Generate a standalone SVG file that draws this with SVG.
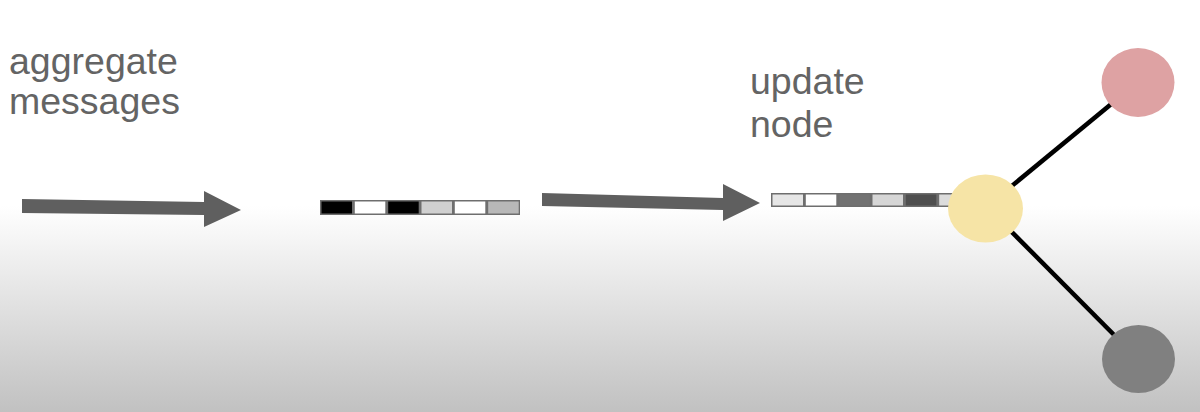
<svg xmlns="http://www.w3.org/2000/svg" width="1200" height="412" viewBox="0 0 1200 412">
  <defs>
    <linearGradient id="bg" x1="0" y1="0" x2="0" y2="412" gradientUnits="userSpaceOnUse">
      <stop offset="0" stop-color="#ffffff"/>
      <stop offset="0.5" stop-color="#ffffff"/>
      <stop offset="1" stop-color="#c1c1c1"/>
    </linearGradient>
  </defs>
  <style>
    .lbl { font-family: "Liberation Sans", Arial, sans-serif; font-size: 37.5px; fill: #646464; }
    .arrow { fill: #5f5f5f; }
    .edge { stroke: #000000; stroke-width: 4.5; fill: none; }
    .barframe { fill: #6e6e6e; }
  </style>
  <rect x="0" y="0" width="1200" height="412" fill="url(#bg)"/>

  <g id="label-aggregate">
    <text class="lbl" x="9" y="74">aggregate</text>
    <text class="lbl" x="9" y="114">messages</text>
  </g>
  <g id="label-update">
    <text class="lbl" x="750" y="94">update</text>
    <text class="lbl" x="750" y="137">node</text>
  </g>

  <g id="connectors">
    <polygon class="arrow" points="22,199 204,202 204,191 241,210 204,227 204,215 22,213"/>
    <polygon class="arrow" points="542,193 723,198 723,184 760,203 723,221 723,210 542,206"/>
    <line class="edge" x1="985" y1="208" x2="1138" y2="82"/>
    <line class="edge" x1="985" y1="205" x2="1138" y2="359"/>
  </g>

  <g id="message-vector">
    <rect class="barframe" x="320" y="200" width="200" height="15"/>
    <rect x="321.5" y="201.5" width="30.5" height="12" fill="#000000"/>
    <rect x="354.8" y="201.5" width="30.5" height="12" fill="#ffffff"/>
    <rect x="388.2" y="201.5" width="30.5" height="12" fill="#000000"/>
    <rect x="421.5" y="201.5" width="30.5" height="12" fill="#d0d0d0"/>
    <rect x="454.8" y="201.5" width="30.5" height="12" fill="#ffffff"/>
    <rect x="488.2" y="201.5" width="30.5" height="12" fill="#b8b8b8"/>
  </g>

  <g id="updated-vector">
    <rect class="barframe" x="771" y="193" width="200" height="14"/>
    <rect x="772.5" y="194.5" width="30.5" height="11" fill="#e6e6e6"/>
    <rect x="805.8" y="194.5" width="30.5" height="11" fill="#ffffff"/>
    <rect x="839.2" y="194.5" width="30.5" height="11" fill="#727272"/>
    <rect x="872.5" y="194.5" width="30.5" height="11" fill="#d6d6d6"/>
    <rect x="905.8" y="194.5" width="30.5" height="11" fill="#4f4f4f"/>
    <rect x="939.2" y="194.5" width="30.5" height="11" fill="#dcdcdc"/>
  </g>

  <g id="node-yellow">
    <ellipse cx="985.5" cy="208.5" rx="37.5" ry="34" fill="#f6e4a6"/>
  </g>
  <g id="node-pink">
    <ellipse cx="1138" cy="82.5" rx="36.5" ry="34.5" fill="#dea2a3"/>
  </g>
  <g id="node-gray">
    <ellipse cx="1138.5" cy="359" rx="36.5" ry="34" fill="#808080"/>
  </g>
</svg>
